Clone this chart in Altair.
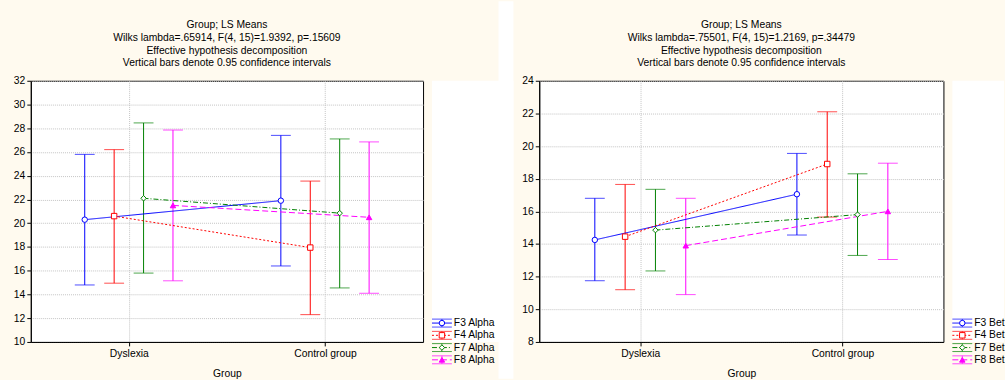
import json
import altair as alt
import pandas as pd

categories = ["Dyslexia", "Control group"]
series_alpha = ["F3 Alpha", "F4 Alpha", "F7 Alpha", "F8 Alpha"]
series_beta = ["F3 Beta", "F4 Beta", "F7 Beta", "F8 Beta"]

# each row: one series, values for [Dyslexia, Control group]
alpha_mean = [[20.3, 21.9], [20.6, 17.95], [22.1, 20.85], [21.5, 20.5]]
alpha_lo = [[14.8, 16.4], [14.95, 12.3], [15.8, 14.55], [15.15, 14.1]]
alpha_hi = [[25.8, 27.4], [26.2, 23.55], [28.45, 27.1], [27.85, 26.85]]

beta_mean = [[14.25, 17.05], [14.45, 18.9], [14.85, 15.8], [13.9, 16.0]]
beta_lo = [[11.75, 14.55], [11.2, 15.65], [12.35, 13.3], [10.9, 13.05]]
beta_hi = [[16.8, 19.55], [17.65, 22.1], [17.35, 18.3], [16.8, 18.95]]

title_alpha = ["Group; LS Means", "Wilks lambda=.65914, F(4, 15)=1.9392, p=.15609",
               "Effective hypothesis decomposition", "Vertical bars denote 0.95 confidence intervals"]
title_beta = ["Group; LS Means", "Wilks lambda=.75501, F(4, 15)=1.2169, p=.34479",
              "Effective hypothesis decomposition", "Vertical bars denote 0.95 confidence intervals"]

colors = ["#0000FF", "#FF0000", "#008000", "#FF00FF"]
dashes = [[1, 0], [2, 2], [5, 2, 1, 2], [6, 3]]
shapes = ["circle", "square", "diamond", "triangle-up"]
fills = ["#FFFFFF", "#FFFFFF", "#FFFFFF", "#FF00FF"]
offsets = [-0.225, -0.075, 0.075, 0.225]

FONT = "Liberation Sans"
FS = 10.4
CREAM = "#FFFAEF"


def enc_scales(series):
    return dict(
        color=alt.Color("series:N", scale=alt.Scale(domain=series, range=colors), legend=None),
        stroke=alt.Stroke("series:N", scale=alt.Scale(domain=series, range=colors), legend=None),
        strokeDash=alt.StrokeDash("series:N", scale=alt.Scale(domain=series, range=dashes), legend=None),
        shape=alt.Shape("series:N", scale=alt.Scale(domain=series, range=shapes), legend=None),
        fill=alt.Fill("series:N", scale=alt.Scale(domain=series, range=fills), legend=None),
    )


def panel(series, mean, lo, hi, ymin, ymax, title, w, h):
    rows = []
    for i, s in enumerate(series):
        for g, cat in enumerate(categories):
            rows.append({"series": s, "group": cat, "x": g + offsets[i],
                         "mean": mean[i][g], "lo": lo[i][g], "hi": hi[i][g]})
    df = pd.DataFrame(rows)
    sc = enc_scales(series)
    xs = alt.Scale(domain=[-0.5, 1.5], nice=False, zero=False)
    ys = alt.Scale(domain=[ymin, ymax], nice=False, zero=False)
    xaxis = alt.Axis(values=[0, 1], labelExpr=json.dumps(categories) + "[datum.value]",
                     grid=True, tickSize=4, labelPadding=3, titlePadding=9, labelOverlap=False)
    yaxis = alt.Axis(values=list(range(ymin, ymax + 1, 2)), grid=True, tickSize=4,
                     labelPadding=2, labelOverlap=False, tickCount=len(range(ymin, ymax + 1, 2)))
    x = alt.X("x:Q", scale=xs, title="Group", axis=xaxis)

    def Y(field):
        return alt.Y(field, scale=ys, title=None, axis=yaxis)

    base = alt.Chart(df)
    bars = base.mark_rule(strokeWidth=1).encode(x=x, y=Y("lo:Q"), y2="hi:Q", color=sc["color"])
    cap_lo = base.mark_tick(orient="horizontal", size=20, thickness=1).encode(
        x=x, y=Y("lo:Q"), color=sc["color"])
    cap_hi = base.mark_tick(orient="horizontal", size=20, thickness=1).encode(
        x=x, y=Y("hi:Q"), color=sc["color"])
    lines = base.mark_line(strokeWidth=1).encode(
        x=x, y=Y("mean:Q"), color=sc["color"], strokeDash=sc["strokeDash"], detail="series:N")
    pts = base.mark_point(filled=True, size=30, strokeWidth=1, opacity=1).encode(
        x=x, y=Y("mean:Q"), stroke=sc["stroke"], shape=sc["shape"], fill=sc["fill"])
    return alt.layer(bars, cap_lo, cap_hi, lines, pts).properties(
        width=w, height=h,
        title=alt.TitleParams(text=title, fontSize=FS, font=FONT, fontWeight="normal",
                              lineHeight=13, offset=7, color="black", anchor="middle"))


def legend(series, w, h, yrange, limit=0, gap=None):
    ldf = pd.DataFrame({"series": series, "row": list(range(len(series)))})
    sc = enc_scales(series)
    y = alt.Y("row:Q", scale=alt.Scale(domain=[0, len(series) - 1], range=yrange, nice=False, zero=False),
              axis=None)
    base = alt.Chart(ldf)
    layers = []
    if gap:
        # white page gap separating the two cream panels (decorative)
        x1, x2, y1, y2 = gap
        layers.append(alt.Chart(pd.DataFrame({"k": [0]})).mark_rect(color="#FFFFFF", strokeWidth=0).encode(
            x=alt.value(x1), x2=alt.value(x2), y=alt.value(y1), y2=alt.value(y2)))
    cap_t = base.mark_tick(orient="horizontal", size=20, thickness=1, yOffset=-4).encode(
        x=alt.value(10), y=y, color=sc["color"])
    cap_b = base.mark_tick(orient="horizontal", size=20, thickness=1, yOffset=4).encode(
        x=alt.value(10), y=y, color=sc["color"])
    vert = base.mark_tick(orient="vertical", size=8, thickness=1).encode(
        x=alt.value(10), y=y, color=sc["color"])
    mid = base.mark_rule(strokeWidth=1).encode(
        x=alt.value(0), x2=alt.value(20), y=y, color=sc["color"], strokeDash=sc["strokeDash"])
    pts = base.mark_point(filled=True, size=30, strokeWidth=1, opacity=1).encode(
        x=alt.value(10), y=y, stroke=sc["stroke"], shape=sc["shape"], fill=sc["fill"])
    tprops = dict(align="left", baseline="middle", font=FONT, fontSize=FS, color="black")
    if limit:
        tprops.update(limit=limit, ellipsis="\u200b")
    txt = base.mark_text(**tprops).encode(x=alt.value(22), y=y, text="series:N")
    layers += [cap_t, cap_b, vert, mid, pts, txt]
    return alt.layer(*layers).properties(
        width=w, height=h, view=alt.ViewBackground(stroke=None))


left = panel(series_alpha, alpha_mean, alpha_lo, alpha_hi, 10, 32, title_alpha, 395, 263)
right = panel(series_beta, beta_mean, beta_lo, beta_hi, 8, 24, title_beta, 407, 263)
legL = legend(series_alpha, 82, 263, [244, 281], gap=(67, 82, -80, 300))
legR = legend(series_beta, 52, 263, [244, 281], limit=31)

chart = alt.hconcat(left, legL, right, legR, spacing=7).properties(
    background=CREAM,
    padding={"left": 12, "top": 0, "right": 0, "bottom": 0},
).configure_view(stroke="black", strokeWidth=1, fill="white").configure_axis(
    labelFont=FONT, titleFont=FONT, labelFontSize=FS, titleFontSize=FS,
    titleFontWeight="normal", labelColor="black", titleColor="black",
    domainColor="black", tickColor="black", gridColor="#C4C4C4", gridDash=[1, 1], gridWidth=1,
).configure_title(lineHeight=13, fontSize=FS, font=FONT)

chart.save("out.html", embed_options={"renderer": "svg", "actions": False})
